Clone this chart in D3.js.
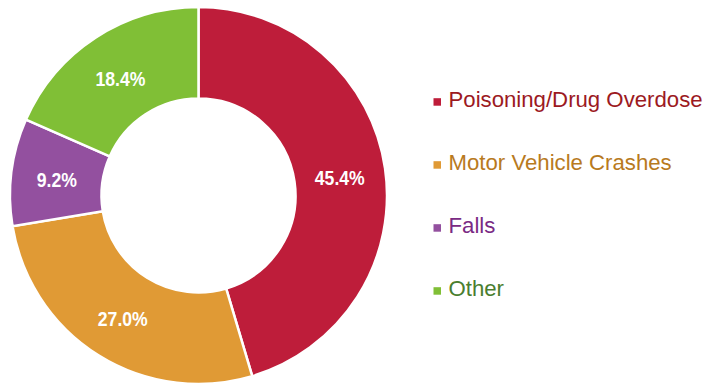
<!DOCTYPE html>
<html>
<head>
<meta charset="utf-8">
<script src="https://cdn.jsdelivr.net/npm/d3@7"></script>
<style>
  html, body { margin: 0; padding: 0; background: #fff; }
  svg { display: block; }
  .slice-label { font-family: "Liberation Sans", Arial, sans-serif; font-weight: bold; font-size: 21px; fill: #fff; }
  .legend-text { font-family: "Liberation Sans", Arial, sans-serif; font-size: 22.2px; }
</style>
</head>
<body>
<svg id="chart" width="711" height="385"></svg>
<script>
// Share of deaths by cause (percent)
const categories = ["Poisoning/Drug Overdose", "Motor Vehicle Crashes", "Falls", "Other"];
const values = [45.4, 27.0, 9.2, 18.4];
const sliceColors = ["#BE1D3A", "#E09A35", "#93509F", "#80BF36"];
const legendTextColors = ["#9C1A1F", "#B87A1E", "#7A2A84", "#4A7E2F"];

const svg = d3.select("#chart");
const cx = 198.5, cy = 195.5;
const outerR = 188.5, innerR = 97;

const data = categories.map((c, i) => ({ name: c, value: values[i], color: sliceColors[i], textColor: legendTextColors[i] }));

const pie = d3.pie().value(d => d.value).sort(null);
const arc = d3.arc().innerRadius(innerR).outerRadius(outerR);

const g = svg.append("g").attr("transform", `translate(${cx},${cy})`);
const arcs = pie(data);

g.selectAll("path.slice")
  .data(arcs)
  .join("path")
  .attr("class", "slice")
  .attr("d", arc)
  .attr("fill", d => d.data.color)
  .attr("stroke", "#fff")
  .attr("stroke-width", 2.5)
  .attr("stroke-linejoin", "miter");

// Condensed bold value labels at each slice centroid
g.selectAll("text.slice-label")
  .data(arcs)
  .join("text")
  .attr("class", "slice-label")
  .attr("transform", d => `translate(${arc.centroid(d)}) scale(0.84,1)`)
  .attr("text-anchor", "middle")
  .attr("dy", "0.47em")
  .text(d => d3.format(".1f")(d.data.value) + "%");

// Legend
const legendX = 433.5, legendY0 = 106.7, legendStep = 63;
const legend = svg.append("g");
const items = legend.selectAll("g.item")
  .data(data)
  .join("g")
  .attr("class", "item")
  .attr("transform", (d, i) => `translate(${legendX},${legendY0 + i * legendStep})`);

items.append("rect")
  .attr("x", 0)
  .attr("y", -8.5)
  .attr("width", 7.5)
  .attr("height", 7.5)
  .attr("fill", d => d.color);

items.append("text")
  .attr("class", "legend-text")
  .attr("x", 15)
  .attr("y", 0)
  .attr("fill", d => d.textColor)
  .text(d => d.name);
</script>
</body>
</html>
